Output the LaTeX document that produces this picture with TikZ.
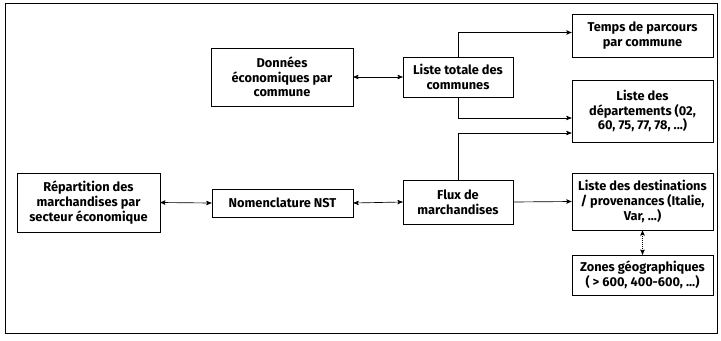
\documentclass[tikz,border=0pt]{standalone}
\usepackage{fontspec}
\setmainfont{Fira Sans}
\usetikzlibrary{calc}
\usetikzlibrary{arrows}
\tikzset{boite/.style={draw, thin, align=center, font=\bfseries\fontsize{9.6}{11}\selectfont, inner sep=1pt}}
\tikzset{lien/.style={line width=0.5pt, >=stealth'}}

\begin{document}
\begin{tikzpicture}[x=0.75pt,y=-0.75pt]
\useasboundingbox (0,0) rectangle (721,340);
\draw[thin] (5,3) rectangle (717,333);
% colonne de gauche
\node[boite, minimum width=106.5pt, minimum height=43.5pt] (donnees) at (282,77) {Données\\économiques par\\commune};
\node[boite, minimum width=107pt, minimum height=44pt] (repart) at (88.5,202.5) {Répartition des\\marchandises par\\secteur économique};
\node[boite, minimum width=106pt, minimum height=21pt] (nst) at (282.5,203) {Nomenclature NST};
% colonne du milieu
\node[boite, minimum width=82.5pt, minimum height=30pt] (liste) at (458,77) {Liste totale des\\communes};
\node[boite, minimum width=82.5pt, minimum height=33pt] (flux) at (458,202) {Flux de\\marchandises};
% colonne de droite
\node[boite, minimum width=106pt, minimum height=32pt] (temps) at (642.5,35.5) {Temps de parcours\\par commune};
\node[boite, minimum width=106pt, minimum height=46.5pt] (depts) at (642.5,111) {Liste des\\départements (02,\\60, 75, 77, 78, ...)};
\node[boite, minimum width=106pt, minimum height=43pt] (dest) at (642.5,201.5) {Liste des destinations\\/ provenances (Italie,\\Var, ...)};
\node[boite, minimum width=106pt, minimum height=30pt] (zones) at (642.5,275) {Zones géographiques\\( > 600, 400-600, ...)};
% liens
\draw[lien, <->] (donnees.east) -- (liste.west);
\draw[lien, ->] (liste.north) |- ($(temps.west)+(0,-3)$);
\draw[lien, ->] (liste.south) |- ($(depts.west)+(0,7)$);
\draw[lien, ->] (flux.north) |- ($(depts.west)+(0,22)$);
\draw[lien, <->] (repart.east) -- (nst.west);
\draw[lien, <->] (nst.east) -- (flux.west);
\draw[lien, ->] (flux.east) -- (dest.west);
\draw[lien, <->, densely dotted] (dest.south) -- (zones.north);
\end{tikzpicture}
\end{document}
